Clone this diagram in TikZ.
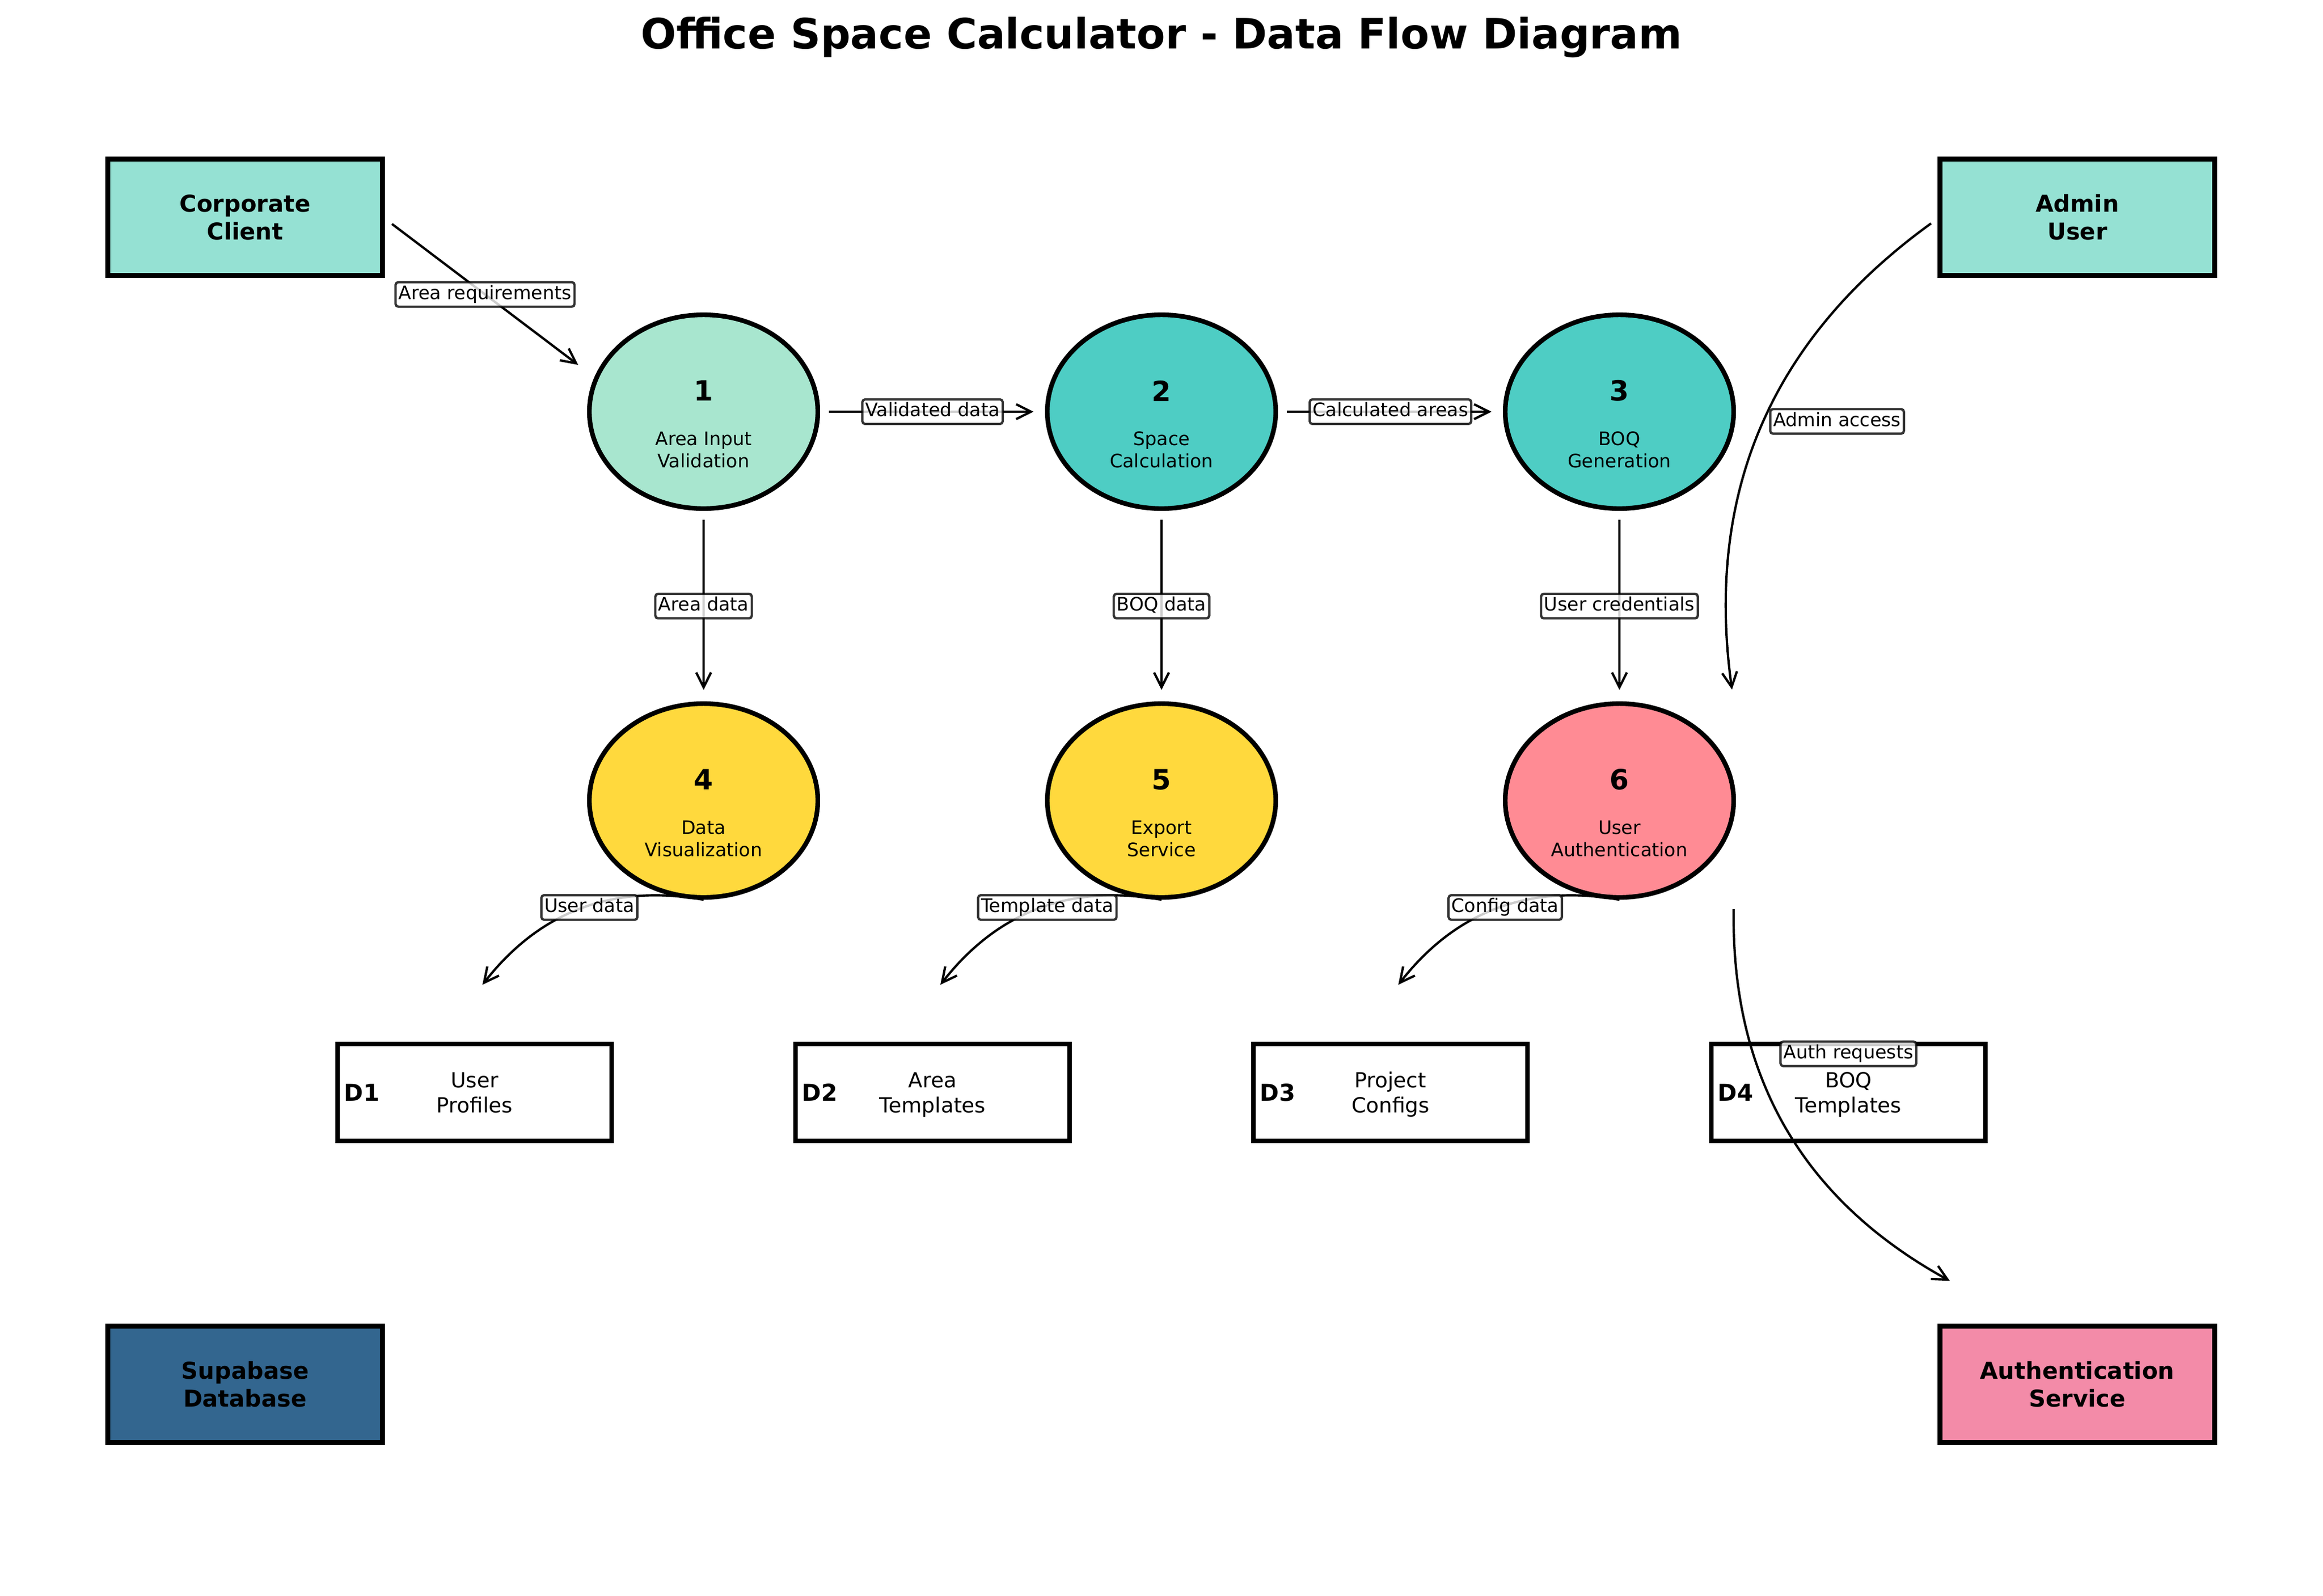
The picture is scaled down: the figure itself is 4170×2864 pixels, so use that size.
\documentclass[tikz,border=0pt]{standalone}
\usepackage{fontspec}
\setmainfont{DejaVu Sans}
\usetikzlibrary{calc}
\usetikzlibrary{positioning}
\usetikzlibrary{shapes.geometric}
\usetikzlibrary{arrows.meta}
\pgfdeclarelayer{back}
\pgfsetlayers{back,main}
\definecolor{clientteal}{HTML}{95E1D3}
\definecolor{dbblue}{RGB}{51,102,143}
\definecolor{authpink}{HTML}{F38BA8}
\definecolor{inputmint}{HTML}{A8E6CF}
\definecolor{calcteal}{HTML}{4ECDC4}
\definecolor{outyellow}{HTML}{FFD93D}
\definecolor{userred}{HTML}{FF8B94}

\begin{document}
\begin{tikzpicture}[x=0.24pt, y=-0.24pt,
    entity/.style={rectangle, draw=black, line width=2pt, minimum width=118.3pt, minimum height=50.2pt, inner sep=0pt, align=center, font=\bfseries\fontsize{10}{12}\selectfont},
    process/.style={ellipse, draw=black, line width=2pt, minimum width=98.4pt, minimum height=83.5pt, inner sep=0pt},
    store/.style={rectangle, draw=black, fill=white, line width=2pt, minimum width=118.1pt, minimum height=41.8pt, inner sep=0pt},
    flow/.style={-{Straight Barb[length=6.4pt, width=6.4pt]}, line width=1pt},
    link/.style={flow, shorten <=3.8pt, shorten >=4.9pt},
    flowlabel/.style={draw=black, draw opacity=0.8, fill=white, fill opacity=0.8, text opacity=1, line width=1pt, rounded corners=1.2pt, inner sep=1.3pt, text height=6.1pt, text depth=1.9pt, font=\fontsize{8}{9.6}\selectfont}]
    \useasboundingbox (0,0) rectangle (4170,2864);
    \node[anchor=base, font=\bfseries\fontsize{18}{21.6}\selectfont] (title) at (2085,87) {Office Space Calculator - Data Flow Diagram};
    \node[entity, fill=clientteal] (cc) at (440,390) {Corporate\\Client};
    \node[entity, fill=clientteal] (au) at (3729,390) {Admin\\User};
    \node[entity, fill=dbblue] (sd) at (440,2485) {Supabase\\Database};
    \node[entity, fill=authpink] (as) at (3729,2485) {Authentication\\Service};
    \foreach \name/\x/\y/\col/\num/\desc in {p1/1263/739/inputmint/1/Area Input\\Validation, p2/2085/739/calcteal/2/Space\\Calculation, p3/2907/739/calcteal/3/BOQ\\Generation, p4/1263/1437/outyellow/4/Data\\Visualization, p5/2085/1437/outyellow/5/Export\\Service, p6/2907/1437/userred/6/User\\Authentication}
    {
        \node[process, fill=\col] (\name) at (\x,\y) {};
        \node[font=\bfseries\fontsize{12}{14.4}\selectfont] (\name-num) at ($(\name)+(0,-37.5)$) {\num};
        \node[align=center, text depth=0pt, font=\fontsize{8}{9.6}\selectfont] (\name-txt) at ($(\name)+(0,68.5)$) {\desc};
    }
    \foreach \name/\x/\id/\desc in {d1/852/D1/User\\Profiles, d2/1674/D2/Area\\Templates, d3/2496/D3/Project\\Configs, d4/3318/D4/BOQ\\Templates}
    {
        \node[store] (\name) at (\x,1961) {};
        \node[anchor=west, inner sep=0pt, font=\bfseries\fontsize{10}{12}\selectfont] (\name-id) at ($(\name.west)+(15,0)$) {\id};
        \node[align=center, text depth=0pt, font=\fontsize{9}{10.8}\selectfont] (\name-txt) at (\name) {\desc};
    }
    \coordinate (cc-out) at ($(cc.east)+(13,12)$);
    \coordinate (p1-in) at ($(p1.west)+(-16,-84)$);
    \draw[flow] (cc-out) -- node[flowlabel] (l-req) {Area requirements} (p1-in);
    \draw[link] (p1) -- node[flowlabel] (l-val) {Validated data} (p2);
    \draw[link] (p2) -- node[flowlabel] (l-calc) {Calculated areas} (p3);
    \draw[link] (p1) -- node[flowlabel] (l-area) {Area data} (p4);
    \draw[link] (p2) -- node[flowlabel] (l-boq) {BOQ data} (p5);
    \draw[link] (p3) -- node[flowlabel] (l-cred) {User credentials} (p6);
    \coordinate (au-out) at ($(au.west)+(-12,11)$);
    \coordinate (p6-in) at ($(p6.north)+(202,-21)$);
    \draw[flow] (au-out) to[bend right=31] (p6-in);
    \node[flowlabel] (l-admin) at ($(au-out)!0.5!(p6-in)+(10,-63)$) {Admin access};
    \coordinate (p6-out) at ($(p6.south)+(205,17)$);
    \coordinate (as-in) at ($(as.north)+(-229,-77)$);
    \draw[flow] (p6-out) to[bend right=31] (as-in);
    \node[flowlabel] (l-auth) at ($(p6-out)!0.5!(as-in)+(12,-74)$) {Auth requests};
    \foreach \proc/\sto/\lab in {p4/d1/User data, p5/d2/Template data, p6/d3/Config data}
    {
        \coordinate (\sto-in) at ($(\sto.north)+(14,-102)$);
        \begin{pgfonlayer}{back}
            \draw[flow] (\proc.south) to[bend right=31] (\sto-in);
        \end{pgfonlayer}
        \node[flowlabel] (\sto-lab) at ($(\proc)+(-205,192)$) {\lab};
    }
\end{tikzpicture}
\end{document}
